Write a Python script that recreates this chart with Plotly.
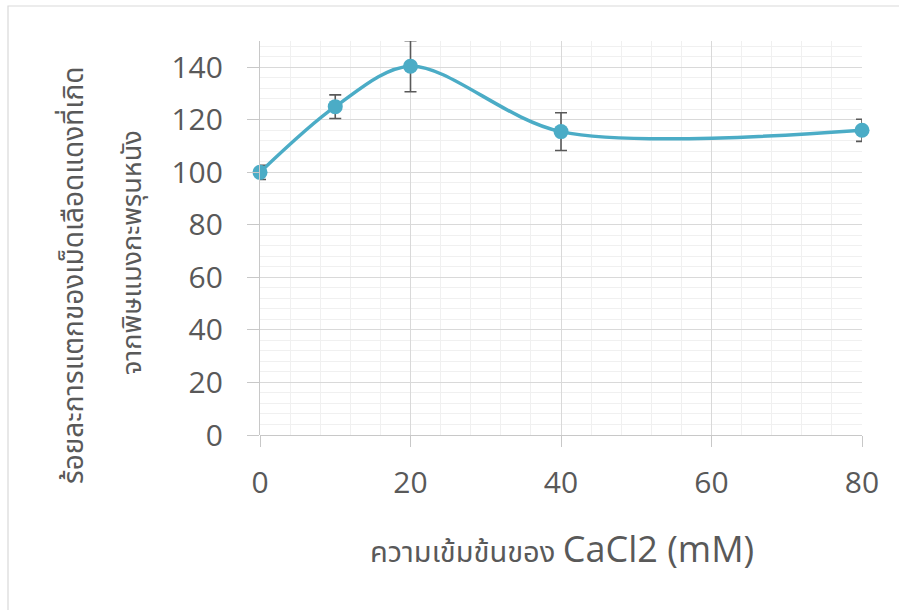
import plotly.graph_objects as go

conc = [0, 10, 20, 40, 80]
hemolysis = [100, 125, 140.4, 115.5, 116]
err = [2.7, 4.5, 9.7, 7.2, 4.2]

x_ticks = [0, 20, 40, 60, 80]
y_ticks = [0, 20, 40, 60, 80, 100, 120, 140]

y_title_1 = "ร้อยละการแตกของเม็ดเลือดแดงที่เกิด"
y_title_2 = "จากพิษแมงกะพรุนหนัง"
x_title_thai = "ความเข้มข้นของ"
x_title_latin = "CaCl2 (mM)"

TXT = "#595959"
FONT = "Open Sans, Noto Sans, Noto Sans Thai, sans-serif"

fig = go.Figure()
fig.add_trace(go.Scatter(
    x=conc, y=hemolysis,
    mode="lines+markers",
    line=dict(color="#4BACC6", width=3.5, shape="spline", smoothing=0.9),
    marker=dict(color="#4BACC6", size=15),
    error_y=dict(type="data", array=err, visible=True, color="#595959",
                 thickness=1.6, width=6),
    showlegend=False,
    cliponaxis=False,
))

L, R, T, B = 260, 37, 41, 175
W, H = 899, 610
pw, ph = W - L - R, H - T - B

fig.update_layout(
    width=W, height=H,
    margin=dict(l=L, r=R, t=T, b=B),
    paper_bgcolor="white", plot_bgcolor="white",
    font=dict(family=FONT, color=TXT),
    xaxis=dict(
        range=[0, 80], tickvals=x_ticks, ticktext=[str(v) for v in x_ticks],
        showgrid=True, gridcolor="#d9d9d9", gridwidth=1.3,
        minor=dict(dtick=4, showgrid=True, gridcolor="#f0f0f0", gridwidth=1.3),
        showline=False, zeroline=False,
        ticks="outside", ticklen=11, tickcolor="#c8c8c8", tickwidth=1.3,
        tickfont=dict(size=30, color=TXT, family=FONT),
        ticklabelstandoff=10,
        fixedrange=True,
    ),
    yaxis=dict(
        range=[0, 150], tickvals=y_ticks, ticktext=[str(v) for v in y_ticks],
        showgrid=True, gridcolor="#d9d9d9", gridwidth=1.3,
        minor=dict(dtick=4, showgrid=True, gridcolor="#f0f0f0", gridwidth=1.3),
        showline=True, linecolor="#c8c8c8", linewidth=1.3,
        zeroline=True, zerolinecolor="#c8c8c8", zerolinewidth=1.3,
        ticks="outside", ticklen=12, tickcolor="#c8c8c8", tickwidth=1.3,
        tickfont=dict(size=30, color=TXT, family=FONT),
        ticklabelstandoff=18,
        fixedrange=True,
    ),
)

def px_x(p):
    return (p - L) / pw

def px_y(p):
    return (H - B - p) / ph

fig.add_shape(type="rect", xref="paper", yref="paper",
              x0=px_x(8), x1=px_x(W + 20), y0=px_y(6), y1=px_y(H + 20),
              line=dict(color="#d9d9d9", width=1.2), layer="below")

fig.add_annotation(xref="paper", yref="paper", x=px_x(72), y=px_y(275),
                   text=y_title_1, textangle=-90, showarrow=False,
                   font=dict(size=28, color=TXT, family=FONT),
                   xanchor="center", yanchor="middle")
fig.add_annotation(xref="paper", yref="paper", x=px_x(130), y=px_y(253),
                   text=y_title_2, textangle=-90, showarrow=False,
                   font=dict(size=27, color=TXT, family=FONT),
                   xanchor="center", yanchor="middle")
fig.add_annotation(xref="paper", yref="paper", x=px_x(562), y=px_y(548),
                   text=f"<span style='font-size:29px'>{x_title_thai}</span> "
                        f"<span style='font-size:36px'>{x_title_latin}</span>",
                   showarrow=False, font=dict(size=29, color=TXT, family=FONT),
                   xanchor="center", yanchor="middle")

fig.write_html("out.html")
